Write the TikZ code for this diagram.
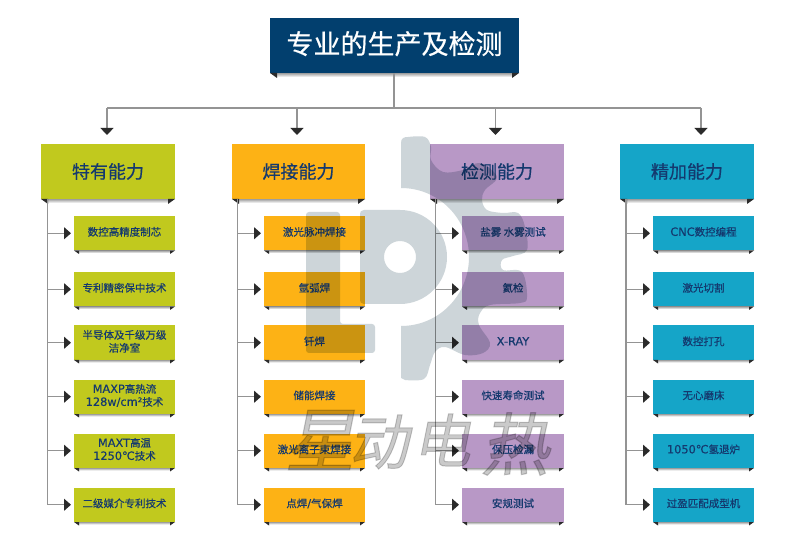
\documentclass[tikz,border=0pt]{standalone}
\usepackage{fontspec}
\setmainfont[FakeBold=0.5]{Noto Sans CJK SC}
\newfontfamily\latf[FakeBold=0.4,Scale=1.08]{DejaVu Sans}
\newfontfamily\wmf[FakeBold=1.6]{Noto Sans CJK SC}
\usetikzlibrary{arrows.meta,calc}
\definecolor{navy}{HTML}{023F6E}
\definecolor{ink}{HTML}{14396E}
\definecolor{cgreen}{HTML}{C1C91E}
\definecolor{corange}{HTML}{FDB215}
\definecolor{cpurple}{HTML}{B898C6}
\definecolor{cteal}{HTML}{15A5C8}
\definecolor{wm}{HTML}{CDD5D9}
\definecolor{wmtxt}{HTML}{CACACA}
\definecolor{tipc}{HTML}{2B2B2B}
\tikzset{
  conn/.style={draw=black!42,line width=1.1pt},
  downconn/.style={conn,-{Triangle[length=7pt,width=13pt,color=tipc]},shorten >=9pt},
  sideconn/.style={conn,-{Triangle[length=7pt,width=12pt,color=tipc]},shorten >=3pt},
  fold/.style={fill=tipc},
  boxbase/.style={inner sep=0pt,outer sep=0pt,align=center,text=ink},
}
\newcommand{\lat}[1]{{\latf #1}}
% name, x1, x2, y1, y2, colour, fold w, fold h, font size, text
\newcommand{\boxn}[9]{%
  \shade[top color=black!38,bottom color=white]
    (#2+#7,#5) rectangle (#3-#7,#5+#8-1);
  \node[boxbase,fill=#6,minimum width={#3-#2},minimum height={#5-#4}] (#1)
    at ({(#2+#3)/2},{(#4+#5)/2}) {#9};
  \fill[fold] (#1.south west) -- ++(#7,0) -- ++(0,#8) -- cycle;
  \fill[fold] (#1.south east) -- ++(-#7,0) -- ++(0,#8) -- cycle;
}
\newcommand{\subn}[6]{% name x1 x2 top colour text
  \boxn{#1}{#2}{#3}{#4}{#4+34.5}{#5}{5}{3.5}{\fontsize{10.5}{13}\selectfont\raisebox{2pt}{\begin{tabular}{@{}c@{}}#6\end{tabular}}}}
\begin{document}
\begin{tikzpicture}[x=1pt,y=-1pt]
\useasboundingbox (0,0) rectangle (790,545);
\fill[white] (0,0) rectangle (790,545);

% title and heads
\boxn{title}{270}{519}{18}{73}{navy}{7}{5}{\textcolor{white}{\raisebox{6pt}{\fontsize{27}{30}\selectfont 专业的生产及检测}}}
\boxn{h1}{41}{175}{144}{199}{cgreen}{7}{5}{\fontsize{18}{20}\selectfont 特有能力}
\boxn{h2}{232}{365}{144}{199}{corange}{7}{5}{\fontsize{18}{20}\selectfont 焊接能力}
\boxn{h3}{430}{564}{144}{199}{cpurple}{7}{5}{\fontsize{18}{20}\selectfont 检测能力}
\boxn{h4}{620}{754}{144}{199}{cteal}{7}{5}{\fontsize{18}{20}\selectfont 精加能力}

% sub boxes
\subn{a1}{74}{175}{216}{cgreen}{数控高精度制芯}
\subn{a2}{74}{175}{272}{cgreen}{专利精密保中技术}
\subn{a3}{74}{175}{325.5}{cgreen}{半导体及千级万级\\洁净室}
\subn{a4}{74}{175}{379.5}{cgreen}{\lat{MAXP}高热流\\\lat{128w/cm²}技术}
\subn{a5}{74}{175}{433.5}{cgreen}{\lat{MAXT}高温\\\lat{1250℃}技术}
\subn{a6}{74}{175}{487.5}{cgreen}{二级媒介专利技术}

\subn{b1}{264}{365}{216}{corange}{激光脉冲焊接}
\subn{b2}{264}{365}{272}{corange}{氩弧焊}
\subn{b3}{264}{365}{325.5}{corange}{钎焊}
\subn{b4}{264}{365}{379.5}{corange}{储能焊接}
\subn{b5}{264}{365}{433.5}{corange}{激光离子束焊接}
\subn{b6}{264}{365}{487.5}{corange}{点焊\lat{/}气保焊}

\subn{c1}{462}{564}{216}{cpurple}{盐雾 水雾测试}
\subn{c2}{462}{564}{272}{cpurple}{氦检}
\subn{c3}{462}{564}{325.5}{cpurple}{\lat{X-RAY}}
\subn{c4}{462}{564}{379.5}{cpurple}{快速寿命测试}
\subn{c5}{462}{564}{433.5}{cpurple}{保压检漏}
\subn{c6}{462}{564}{487.5}{cpurple}{安规测试}

\subn{d1}{653}{754}{216}{cteal}{\lat{CNC}数控编程}
\subn{d2}{653}{754}{272}{cteal}{激光切割}
\subn{d3}{653}{754}{325.5}{cteal}{数控打孔}
\subn{d4}{653}{754}{379.5}{cteal}{无心磨床}
\subn{d5}{653}{754}{433.5}{cteal}{\lat{1050℃}氢退炉}
\subn{d6}{653}{754}{487.5}{cteal}{过盈匹配成型机}

% top connectors
\coordinate (bus) at (394,108);
\coordinate (t1) at (107,108);
\coordinate (t2) at (297,108);
\coordinate (t3) at (495.5,108);
\coordinate (t4) at (701,108);
\draw[conn] (title.south -| bus) -- (bus);
\draw[conn] (t1) -- (t4);
\foreach \n/\h in {t1/h1,t2/h2,t3/h3,t4/h4}
  \draw[downconn] (\n) -- (\n |- \h.north);

% side connectors
\coordinate (s1) at (47.5,199);
\coordinate (s2) at (237.5,199);
\coordinate (s3) at (435.5,199);
\coordinate (s4) at (626,199);
\foreach \c/\s in {a/s1,b/s2,c/s3,d/s4}
  \foreach \i in {1,...,6}
    \draw[sideconn] (\s) |- (\c\i.west);

% watermark
\begin{scope}[blend mode=multiply]
  % L
  \fill[wm,rounded corners=3pt] (306,212) -- (340,212) -- (340,324) -- (375,324) -- (375,353) -- (306,353) -- cycle;
  % P with hole
  \fill[wm,even odd rule] (364,210) -- (400,210) .. controls (426,210) and (447,231) .. (447,257)
     .. controls (447,283) and (426,304) .. (400,304) -- (364,304)
     .. controls (361,304) and (360,302) .. (360,300) -- (360,214)
     .. controls (360,212) and (361,210) .. (364,210) -- cycle
     (400,257) circle[radius=16pt];
  % gear
  \fill[wm] (401,188) -- (401,143) .. controls (401,138) and (404,137) .. (408,137)
     -- plot[smooth,tension=0.6] coordinates {(408,137) (425,137) (431,147) (431,160) (443,172) (463,170) (480,163) (497,177) (485,190) (482,200) (487,210) (503,213) (518,213) (525,227) (527,250) (513,256) (502,260) (503,270) (522,272) (527,297) (520,303) (490,305) (480,313) (479,325) (490,343) (483,353) (465,355) (445,347) (435,352) (430,365) (424,379) (405,380)}
     -- (401,378) -- (401,326)
     .. controls (439,326) and (469,295) .. (469,257)
     .. controls (469,219) and (439,188) .. (401,188) -- cycle;
  % calligraphy
  \begin{scope}[every node/.style={text=wmtxt,inner sep=0pt,xslant=0.2}]
    \node[font=\wmf\fontsize{70}{70}\selectfont] (w1) at (325,440) {星};
    \node[font=\wmf\fontsize{60}{70}\selectfont] (w2) at (383,442) {动};
    \node[font=\wmf\fontsize{58}{70}\selectfont] (w3) at (446,440) {电};
    \node[font=\wmf\fontsize{68}{70}\selectfont] (w4) at (520,444) {热};
  \end{scope}
\end{scope}
\end{tikzpicture}
\end{document}
